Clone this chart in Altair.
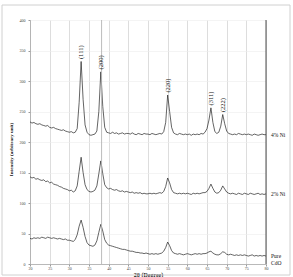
import altair as alt
import pandas as pd

# 2-theta scan positions (degrees)
angles = [
    20.0, 20.5, 21.0, 21.5, 22.0, 22.5, 23.0, 23.5, 24.0, 24.5,
    25.0, 25.5, 26.0, 26.5, 27.0, 27.5, 28.0, 28.5, 29.0, 29.5,
    30.0, 30.5, 31.0, 31.5, 32.0, 32.5, 33.0, 33.5, 34.0, 34.5,
    35.0, 35.5, 36.0, 36.5, 37.0, 37.5, 38.0, 38.5, 39.0, 39.5,
    40.0, 40.5, 41.0, 41.5, 42.0, 42.5, 43.0, 43.5, 44.0, 44.5,
    45.0, 45.5, 46.0, 46.5, 47.0, 47.5, 48.0, 48.5, 49.0, 49.5,
    50.0, 50.5, 51.0, 51.5, 52.0, 52.5, 53.0, 53.5, 54.0, 54.5,
    55.0, 55.5, 56.0, 56.5, 57.0, 57.5, 58.0, 58.5, 59.0, 59.5,
    60.0, 60.5, 61.0, 61.5, 62.0, 62.5, 63.0, 63.5, 64.0, 64.5,
    65.0, 65.5, 66.0, 66.5, 67.0, 67.5, 68.0, 68.5, 69.0, 69.5,
    70.0, 70.5, 71.0, 71.5, 72.0, 72.5, 73.0, 73.5, 74.0, 74.5,
    75.0, 75.5, 76.0, 76.5, 77.0, 77.5, 78.0, 78.5, 79.0, 79.5,
    80.0,
]

# Intensities (offset traces)
pure_cdo = [
    42, 41, 43, 42, 43, 42, 44, 43, 42, 44,
    43, 42, 43, 42, 41, 42, 41, 40, 41, 39,
    39, 38, 37, 40, 48, 62, 72, 60, 45, 35,
    31, 30, 29, 31, 38, 52, 65, 54, 40, 34,
    31, 30, 29, 28, 27, 26, 25, 24, 24, 23,
    22, 21, 21, 20, 19, 19, 18, 18, 17, 18,
    17, 16, 17, 16, 17, 16, 17, 18, 21, 27,
    36, 30, 22, 18, 17, 16, 17, 16, 15, 16,
    17, 16, 15, 16, 17, 16, 17, 16, 17, 17,
    18, 20, 21, 18, 16, 15, 15, 17, 20, 19,
    16, 15, 16, 15, 14, 15, 14, 15, 14, 15,
    14, 13, 14, 15, 13, 14, 13, 14, 13, 14,
    13,
]

ni_2 = [
    143, 141, 142, 139, 140, 138, 137, 138, 135, 136,
    133, 134, 131, 130, 129, 127, 126, 124, 123, 122,
    120, 121, 118, 120, 128, 152, 175, 150, 130, 122,
    119, 118, 119, 121, 128, 148, 169, 148, 130, 125,
    123, 124, 122, 121, 122, 120, 119, 120, 118, 119,
    118, 117, 118, 116, 117, 116, 117, 115, 116, 115,
    115, 116, 115, 116, 115, 116, 117, 116, 119, 127,
    141, 133, 122, 117, 116, 115, 116, 115, 116, 115,
    116, 115, 114, 116, 115, 116, 115, 116, 117, 117,
    119, 124, 131, 124, 118, 116, 117, 121, 128, 123,
    118, 116, 115, 116, 115, 114, 116, 115, 114, 116,
    115, 114, 116, 115, 114, 115, 116, 114, 115, 114,
    115,
]

ni_4 = [
    233, 231, 232, 230, 229, 230, 228, 227, 226, 227,
    224, 223, 224, 222, 221, 220, 219, 220, 218, 217,
    216, 217, 215, 216, 222, 265, 332, 270, 228, 216,
    212, 211, 212, 213, 218, 250, 315, 258, 224, 216,
    215, 214, 216, 214, 215, 213, 214, 215, 213, 214,
    214, 213, 215, 213, 212, 214, 213, 212, 214, 213,
    213, 212, 214, 213, 212, 213, 214, 213, 217, 232,
    277, 250, 224, 215, 213, 212, 214, 213, 212, 213,
    212, 213, 211, 213, 212, 213, 212, 214, 213, 216,
    222, 236, 256, 232, 217, 214, 216, 226, 245, 230,
    218, 214, 213, 212, 213, 212, 214, 213, 212, 213,
    212, 213, 212, 211, 213, 212, 211, 212, 213, 212,
    212,
]

sample_names = ["4% Ni", "2% Ni", "Pure\nCdO"]
series = [ni_4, ni_2, pure_cdo]

# Miller indices of the reflections and their 2-theta positions
hkl_labels = ["(111)", "(200)", "(220)", "(311)", "(222)"]
hkl_angles = [33.0, 38.0, 55.0, 66.0, 69.0]

# Marker lines across the plot
marker_angles = [38.2, 80.0]
marker_colors = ["#b4b4b4", "#3a3a3a"]

x_ticks = [20, 25, 30, 35, 40, 45, 50, 55, 60, 65, 70, 75, 80]
y_ticks = [0, 50, 100, 150, 200, 250, 300, 350, 400]

SERIF = "Liberation Serif"

rows = []
for name, vals in zip(sample_names, series):
    for a, v in zip(angles, vals):
        rows.append({"angle": a, "intensity": v, "sample": name})
df = pd.DataFrame(rows)

x_scale = alt.Scale(domain=[20, 80], nice=False, zero=False)
y_scale = alt.Scale(domain=[0, 400], nice=False)

x_axis = alt.Axis(
    values=x_ticks, tickCount=len(x_ticks),
    title="2θ (Degree)", titleFont=SERIF, titleFontSize=6,
    titleFontWeight="bold", titleColor="#111", titleY=10.5,
    titleBaseline="middle",
    labelFont=SERIF, labelFontSize=4, labelColor="#444", labelPadding=0,
    labelOverlap=False, labelFlush=False,
    tickSize=2, tickColor="#999", domainColor="#aaa", domainWidth=0.8,
    grid=True, gridColor="#d4d4d4", gridWidth=0.8,
)
y_axis = alt.Axis(
    values=y_ticks, tickCount=len(y_ticks),
    title="Intensity (arbitrary unit)", titleFont=SERIF,
    titleFontSize=5, titleFontWeight="bold", titleColor="#111",
    titleX=-20, titleY=129, titleAngle=270, titleAlign="center",
    titleBaseline="middle",
    labelFont=SERIF, labelFontSize=4, labelColor="#444", labelPadding=3,
    labelOverlap=False, labelFlush=False,
    tickSize=2, tickColor="#999", domainColor="#aaa", domainWidth=0.8,
    grid=True, gridColor="#ececec", gridWidth=0.6,
)

frame = alt.Chart(pd.DataFrame({"k": [0]})).mark_rect(
    fill=None, stroke="#d0d0d0", strokeWidth=1
).encode(
    x=alt.value(-28), x2=alt.value(260), y=alt.value(-15), y2=alt.value(255)
)

lines = alt.Chart(df).mark_line(color="#222", strokeWidth=0.7).encode(
    x=alt.X("angle:Q", scale=x_scale, axis=x_axis),
    y=alt.Y("intensity:Q", scale=y_scale, axis=y_axis),
    detail="sample:N",
    order="angle:Q",
)

markers = alt.Chart(
    pd.DataFrame({"angle": marker_angles, "c": marker_colors})
).mark_rule(strokeWidth=0.9).encode(
    x=alt.X("angle:Q", scale=x_scale, axis=x_axis),
    color=alt.Color("c:N", scale=None),
)

peak_df = pd.DataFrame({
    "angle": hkl_angles,
    "label": hkl_labels,
    "top": [ni_4[angles.index(a)] + 4 for a in hkl_angles],
})
peak_text = alt.Chart(peak_df).mark_text(
    angle=270, align="left", baseline="middle", font=SERIF, fontSize=6.5,
    color="#111",
).encode(
    x=alt.X("angle:Q", scale=x_scale, axis=x_axis),
    y=alt.Y("top:Q", scale=y_scale, axis=y_axis),
    text="label:N",
)

name_df = pd.DataFrame({
    "angle": [angles[-1]] * 3,
    "level": [vals[-1] for vals in series],
    "name": sample_names,
})
name_text = alt.Chart(name_df).mark_text(
    align="left", baseline="middle", dx=5, font=SERIF, fontSize=5.5,
    color="#111", lineBreak="\n", lineHeight=7,
).encode(
    x=alt.X("angle:Q", scale=x_scale, axis=x_axis),
    y=alt.Y("level:Q", scale=y_scale, axis=y_axis),
    text="name:N",
)

chart = alt.layer(frame, lines, markers, peak_text, name_text).properties(
    width=236,
    height=244,
    autosize=alt.AutoSizeParams(type="none"),
    padding={"left": 30, "top": 20, "right": 27, "bottom": 13},
    background="white",
).configure_view(stroke=None)

chart.save("out.html", embed_options={"renderer": "svg", "actions": False})
